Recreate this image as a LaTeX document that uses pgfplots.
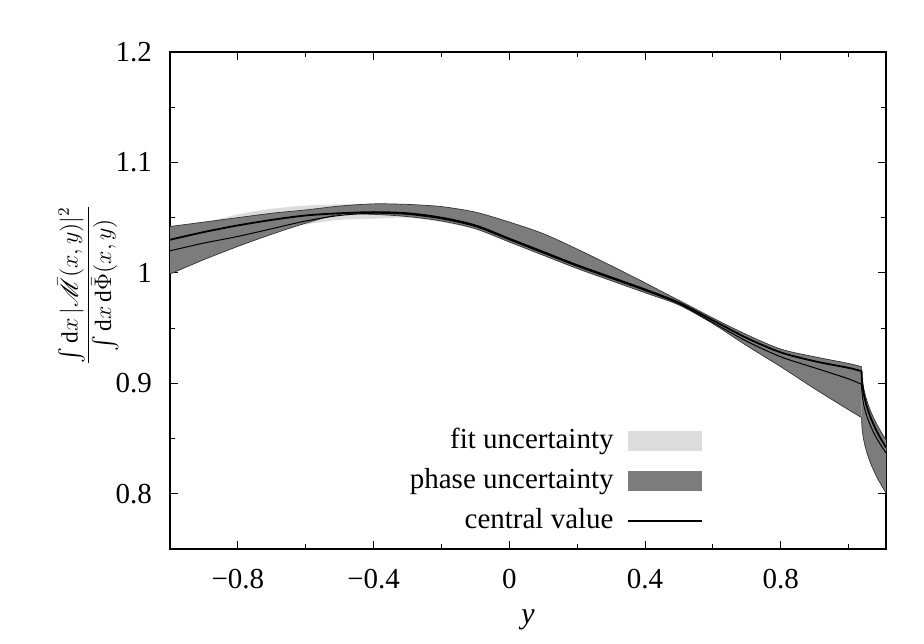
\documentclass[border=0pt]{standalone}
\usepackage{fontspec}
\setmainfont{Liberation Serif}
\usepackage{amsmath}
\usepackage{mathrsfs}
\usepackage{pgfplots}
\pgfplotsset{compat=1.18}
\usepackage{pgfplotstable}
\usepgfplotslibrary{fillbetween}
\definecolor{fitc}{HTML}{DCDCDC}
\definecolor{phasec}{HTML}{7C7C7C}

\pgfplotstableread{
x PU PL C T FU FL
-1.0 1.042 0.999 1.030 1.020 1.037 1.023
-0.9 1.046 1.012 1.037 1.027 1.045 1.029
-0.8 1.050 1.024 1.043 1.033 1.053 1.035
-0.7 1.054 1.035 1.048 1.040 1.058 1.040
-0.6 1.057 1.045 1.052 1.047 1.061 1.044
-0.5 1.0605 1.053 1.054 1.052 1.062 1.048
-0.4 1.0625 1.053 1.055 1.054 1.062 1.049
-0.3 1.062 1.051 1.054 1.053 1.058 1.050
-0.2 1.060 1.047 1.050 1.049 1.054 1.046
-0.1 1.055 1.040 1.043 1.042 1.0465 1.0395
0.0 1.046 1.028 1.031 1.030 1.0345 1.0275
0.1 1.0355 1.016 1.019 1.018 1.0225 1.0155
0.2 1.0215 1.004 1.007 1.006 1.0105 1.0035
0.3 1.0065 0.993 0.996 0.995 0.9995 0.9925
0.4 0.991 0.982 0.985 0.984 0.988 0.982
0.5 0.975 0.971 0.973 0.972 0.976 0.970
0.6 0.959 0.954 0.957 0.955 0.960 0.954
0.7 0.944 0.934 0.941 0.938 0.944 0.938
0.8 0.931 0.915 0.928 0.924 0.931 0.925
0.9 0.924 0.895 0.920 0.914 0.923 0.917
1.0 0.918 0.876 0.914 0.904 0.917 0.911
1.038 0.915 0.869 0.911 0.899 0.914 0.908
}\tabL

\pgfplotstableread{
x PU PL C T FU FL
1.038 0.915 0.869 0.911 0.899 0.914 0.908
1.039 0.9072 0.8610 0.9029 0.8917 0.9059 0.8999
1.042 0.8995 0.8529 0.8948 0.8844 0.8978 0.8918
1.046 0.8930 0.8463 0.8880 0.8783 0.8910 0.8850
1.054 0.8839 0.8369 0.8785 0.8698 0.8815 0.8755
1.066 0.8738 0.8265 0.8680 0.8604 0.8710 0.8650
1.082 0.8634 0.8157 0.8571 0.8505 0.8601 0.8541
1.100 0.8537 0.8058 0.8470 0.8415 0.8500 0.8440
1.110 0.8490 0.8008 0.8420 0.8370 0.8450 0.8390
}\tabR

\begin{document}
\fontsize{14.5}{17}\selectfont
\begin{tikzpicture}
\path (-85pt,-47pt) rectangle (377pt,274.5pt);
\begin{axis}[
  at={(0,0)}, anchor=south west,
  scale only axis, width=358pt, height=248.5pt,
  xmin=-1, xmax=1.11, ymin=0.75, ymax=1.2,
  axis line style={line width=0.6pt},
  xtick={-0.8,-0.4,0,0.4,0.8},
  xticklabels={−0.8,−0.4,0,0.4,0.8},
  minor xtick={-0.6,-0.2,0.2,0.6,1.0},
  ytick={0.8,0.9,1,1.1,1.2},
  yticklabels={0.8,0.9,1,1.1,1.2},
  minor ytick={0.85,0.95,1.05,1.15},
  tick align=inside,
  major tick length=4pt, minor tick length=2.5pt,
  tick style={line width=0.5pt, black},
  ticklabel style={font=\fontsize{14.5}{17}\selectfont},
  xticklabel style={yshift=-5pt},
  yticklabel style={xshift=-4pt},
  xlabel={\textit{y}},
  xlabel style={at={(axis description cs:0.5,-0.143)}, anchor=center, font=\fontsize{15}{17}\selectfont},
  ylabel={$\dfrac{\int \mathrm{d}x\,|\bar{\mathscr{M}}(x,y)|^2}{\int \mathrm{d}x\,\mathrm{d}\bar{\Phi}(x,y)}$},
  ylabel style={at={(axis description cs:-0.1145,0.531)}, anchor=center, font=\fontsize{11.7}{13}\selectfont},
  legend style={draw=none, fill=none, at={(axis cs:0.588,0.757)}, anchor=south east,
    font=\fontsize{14.5}{17}\selectfont, row sep=3.75pt},
  legend cell align=right,
  legend plot pos=right,
]
% fit band
\addplot[name path=fuL, draw=none, smooth, forget plot] table[x=x,y=FU]{\tabL};
\addplot[name path=flL, draw=none, smooth, forget plot] table[x=x,y=FL]{\tabL};
\addplot[fill=fitc, draw=none, forget plot] fill between[of=fuL and flL];
\addplot[name path=fuR, draw=none, smooth, forget plot] table[x=x,y=FU]{\tabR};
\addplot[name path=flR, draw=none, smooth, forget plot] table[x=x,y=FL]{\tabR};
\addplot[fill=fitc, draw=none, forget plot] fill between[of=fuR and flR];
% phase band
\addplot[name path=puL, draw=none, smooth, forget plot] table[x=x,y=PU]{\tabL};
\addplot[name path=plL, draw=none, smooth, forget plot] table[x=x,y=PL]{\tabL};
\addplot[fill=phasec, draw=none, forget plot] fill between[of=puL and plL];
\addplot[name path=puR, draw=none, smooth, forget plot] table[x=x,y=PU]{\tabR};
\addplot[name path=plR, draw=none, smooth, forget plot] table[x=x,y=PL]{\tabR};
\addplot[fill=phasec, draw=none, forget plot] fill between[of=puR and plR];
% edges
\addplot[black!80, line width=0.35pt, smooth, forget plot] table[x=x,y=PU]{\tabL};
\addplot[black!80, line width=0.35pt, smooth, forget plot] table[x=x,y=PL]{\tabL};
\addplot[black!80, line width=0.35pt, smooth, forget plot] table[x=x,y=PU]{\tabR};
\addplot[black!80, line width=0.35pt, smooth, forget plot] table[x=x,y=PL]{\tabR};
% second line
\addplot[black, line width=0.5pt, smooth, forget plot] table[x=x,y=T]{\tabL};
\addplot[black, line width=0.5pt, smooth, forget plot] table[x=x,y=T]{\tabR};
% central value
\addplot[black, line width=0.9pt, smooth, forget plot] table[x=x,y=C]{\tabL};
\addplot[black, line width=0.9pt, smooth, forget plot] table[x=x,y=C]{\tabR};
% legend
\addlegendimage{legend image code/.code={\path[draw=none,fill=none] (0pt,-5pt) rectangle (42pt,5pt); \fill[fitc, draw=none] (5pt,-5pt) rectangle (42pt,5pt);}}
\addlegendentry{fit uncertainty}
\addlegendimage{legend image code/.code={\path[draw=none,fill=none] (0pt,-5pt) rectangle (42pt,5pt); \fill[phasec, draw=none] (5pt,-5pt) rectangle (42pt,5pt);}}
\addlegendentry{phase uncertainty}
\addlegendimage{legend image code/.code={\path[draw=none,fill=none] (0pt,-5pt) rectangle (42pt,5pt); \draw[black,line width=0.9pt] (5pt,0pt) -- (42pt,0pt);}}
\addlegendentry{central value}
\end{axis}
\end{tikzpicture}
\end{document}
